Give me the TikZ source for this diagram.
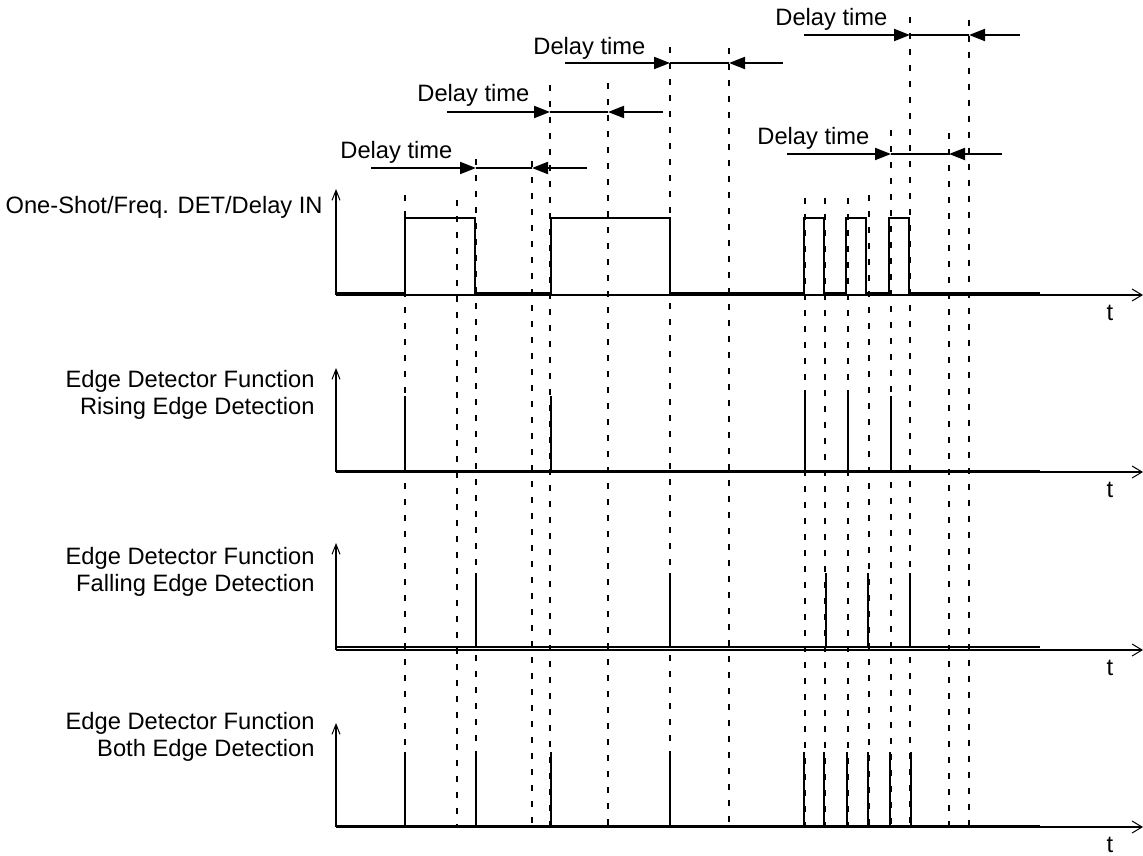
\documentclass[tikz,border=0pt]{standalone}
\usepackage{fontspec}
\setmainfont{Liberation Sans}
\usetikzlibrary{arrows.meta}
\tikzset{
  lbl/.style={inner sep=0pt, font=\fontsize{11.85}{13.25}\selectfont, align=right, anchor=east},
  dlbl/.style={inner sep=0pt, font=\fontsize{11.85}{13.25}\selectfont, anchor=west},
  tlbl/.style={inner sep=0pt, font=\fontsize{11.85}{13.25}\selectfont},
  sig/.style={line width=1pt, line join=miter},
  axis/.style={line width=1pt},
  xaxis/.style={axis, -{Straight Barb[length=5pt,width=6pt,line width=0.5pt]}},
  yaxis/.style={axis, -{Straight Barb[length=5pt,width=4pt,line width=0.5pt]}},
  guide/.style={line width=1pt, dash pattern=on 3pt off 5pt},
  delay/.style={line width=1pt},
  dtip/.style={delay, -{Triangle[length=8pt,width=6pt]}},
}
\begin{document}
\begin{tikzpicture}[x=0.5pt,y=-0.5pt]
\useasboundingbox (0,0) rectangle (1143,855);

% dashed guide lines
\foreach \x/\t in {405/195,457/200,476/159,532/161,550/85,608/83,670/47,729/48,805/198,825/198,848/198,869/195,891/130,910/17,949/133,969/20}
  \draw[guide] (\x,\t) -- (\x,828);

% delay time annotations
\node[dlbl] (d1) at (340,152) {Delay time};
\draw[dtip] (371,168) -- (476,168);
\draw[delay] (476,168) -- (532,168);
\draw[dtip] (587,168) -- (532,168);

\node[dlbl] (d2) at (417,95) {Delay time};
\draw[dtip] (447,112) -- (550,112);
\draw[delay] (550,112) -- (608,112);
\draw[dtip] (663,112) -- (608,112);

\node[dlbl] (d3) at (533,48) {Delay time};
\draw[dtip] (565,63) -- (670,63);
\draw[delay] (670,63) -- (729,63);
\draw[dtip] (783,63) -- (729,63);

\node[dlbl] (d4) at (757,138) {Delay time};
\draw[dtip] (787,154) -- (891,154);
\draw[delay] (891,154) -- (949,154);
\draw[dtip] (1002,154) -- (949,154);

\node[dlbl] (d5) at (775,19) {Delay time};
\draw[dtip] (804,35) -- (910,35);
\draw[delay] (910,35) -- (969,35);
\draw[dtip] (1020,35) -- (969,35);

% row 1
\node[lbl] (l1) at (323,207) {One-Shot/Freq. DET/Delay IN};
\draw[yaxis] (336,295) -- (336,189);
\draw[xaxis] (336,295) -- (1143,295);
\node[tlbl] (t1) at (1110,313) {t};
\draw[sig] (336,293) -- (405,293) -- (405,218) -- (475,218) -- (475,293) -- (551,293) -- (551,218) -- (670,218) -- (670,293)
  -- (804,293) -- (804,218) -- (824,218) -- (824,293) -- (846,293) -- (846,218) -- (866,218) -- (866,293)
  -- (889,293) -- (889,218) -- (909,218) -- (909,293) -- (1040,293);

% row 2
\node[lbl] (l2) at (315,395) {Edge Detector Function\\Rising Edge Detection};
\draw[yaxis] (336,472) -- (336,368);
\draw[xaxis] (336,472) -- (1143,472);
\node[tlbl] (t2) at (1110,490) {t};
\draw[sig] (336,470.5) -- (1040,470.5);
\foreach \x in {405,551,805,848,891}
  \draw[sig] (\x,470.5) -- (\x,396);

% row 3
\node[lbl] (l3) at (315,572) {Edge Detector Function\\Falling Edge Detection};
\draw[yaxis] (336,650) -- (336,543);
\draw[xaxis] (336,650) -- (1143,650);
\node[tlbl] (t3) at (1110,668) {t};
\draw[sig] (336,647.3) -- (1040,647.3);
\foreach \x in {476,670,826,868,910}
  \draw[sig] (\x,647.3) -- (\x,573);

% row 4
\node[lbl] (l4) at (315,737) {Edge Detector Function\\Both Edge Detection};
\draw[yaxis] (336,827) -- (336,723);
\draw[xaxis] (336,827) -- (1143,827);
\node[tlbl] (t4) at (1110,845) {t};
\draw[sig] (336,826) -- (1040,826);
\foreach \x in {405,476,551,670,804,824,847,868,890,911}
  \draw[sig] (\x,826) -- (\x,752);
\end{tikzpicture}
\end{document}
